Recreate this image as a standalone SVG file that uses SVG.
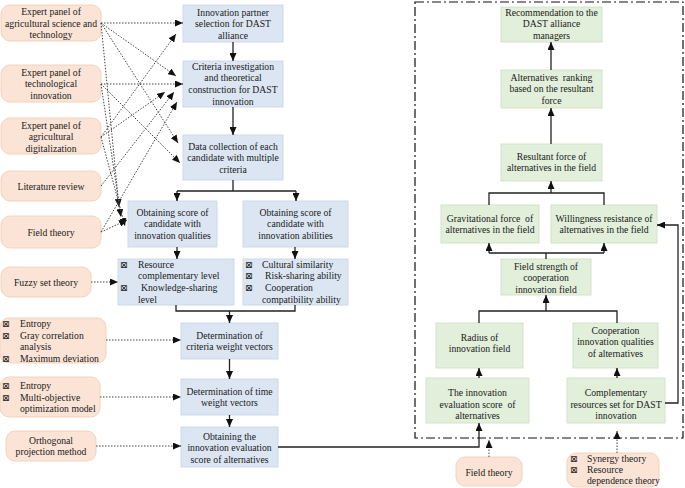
<svg xmlns="http://www.w3.org/2000/svg" width="685" height="488" viewBox="0 0 685 488">
  <defs>
    <marker id="arr" markerUnits="userSpaceOnUse" markerWidth="8" markerHeight="7" refX="8" refY="3.5" orient="auto">
      <path d="M0,0 L8,3.5 L0,7 z" fill="#111"/>
    </marker>
    <style>
      text { font-family: "Liberation Serif", "Times New Roman", serif; font-size: 9.7px; fill: #1a1a1a; }
      .c { text-anchor: middle; }
      .bul { font-family: "DejaVu Sans", sans-serif; font-size: 9px; }
      .blue rect { fill: #dce6f2; stroke: #cdd9ea; stroke-width: 1; }
      .green rect { fill: #e2efda; stroke: #d2e3c7; stroke-width: 1; }
      .peach rect { fill: #fbe4d6; stroke: #f3d2bd; stroke-width: 1; }
      .solid path { fill: none; stroke: #222; stroke-width: 1.3; }
      .dot path { fill: none; stroke: #444; stroke-width: 1; stroke-dasharray: 1.5 1.5; }
      .frame { fill: none; stroke: #111; stroke-width: 1.2; stroke-dasharray: 9 3 2 3; }
    </style>
  </defs>
  <rect width="685" height="488" fill="#fff"/>

  <!-- dash-dot boundary around the field model -->
  <rect class="frame" x="415" y="2" width="268" height="436"/>

  <!-- source nodes on the left -->
  <g id="expert-ast" class="peach">
    <rect x="1" y="5" width="100" height="36" rx="9"/>
    <text class="c" x="51" y="15">Expert panel of</text>
    <text class="c" x="51" y="26.5">agricultural science and</text>
    <text class="c" x="51" y="38">technology</text>
  </g>
  <g id="expert-ti" class="peach">
    <rect x="1" y="65" width="100" height="37" rx="9"/>
    <text class="c" x="51" y="75.5">Expert panel of</text>
    <text class="c" x="51" y="87">technological</text>
    <text class="c" x="51" y="98.5">innovation</text>
  </g>
  <g id="expert-ad" class="peach">
    <rect x="1" y="118" width="100" height="36" rx="9"/>
    <text class="c" x="51" y="128.5">Expert panel of</text>
    <text class="c" x="51" y="140">agricultural</text>
    <text class="c" x="51" y="151.5">digitalization</text>
  </g>
  <g id="literature" class="peach">
    <rect x="1" y="171" width="100" height="30" rx="9"/>
    <text class="c" x="51" y="189.5">Literature review</text>
  </g>
  <g id="field-theory-1" class="peach">
    <rect x="1" y="216" width="100" height="32" rx="9"/>
    <text class="c" x="51" y="235.5">Field theory</text>
  </g>
  <g id="fuzzy" class="peach">
    <rect x="1" y="267" width="90" height="30" rx="9"/>
    <text class="c" x="46" y="285.5">Fuzzy set theory</text>
  </g>
  <g id="methods-criteria" class="peach">
    <rect x="0" y="318" width="106" height="45" rx="9"/>
    <text class="bul" x="2" y="326.5">⊠</text>
    <text x="20" y="326.5">Entropy</text>
    <text class="bul" x="2" y="338.5">⊠</text>
    <text x="20" y="338.5">Gray correlation</text>
    <text x="20" y="350">analysis</text>
    <text class="bul" x="2" y="361.5">⊠</text>
    <text x="20" y="361.5">Maximum deviation</text>
  </g>
  <g id="methods-time" class="peach">
    <rect x="0" y="377" width="100" height="40" rx="9"/>
    <text class="bul" x="2" y="388.5">⊠</text>
    <text x="20" y="388.5">Entropy</text>
    <text class="bul" x="2" y="400.5">⊠</text>
    <text x="20" y="400.5">Multi-objective</text>
    <text x="20" y="412">optimization model</text>
  </g>
  <g id="orthogonal" class="peach">
    <rect x="6" y="431" width="90" height="30" rx="9"/>
    <text class="c" x="51" y="443.5">Orthogonal</text>
    <text class="c" x="51" y="455">projection method</text>
  </g>

  <!-- evaluation pipeline -->
  <g id="partner-selection" class="blue">
    <rect x="183" y="5" width="100" height="37"/>
    <text class="c" x="233" y="15.5">Innovation partner</text>
    <text class="c" x="233" y="27">selection for DAST</text>
    <text class="c" x="233" y="38.5">alliance</text>
  </g>
  <g id="criteria" class="blue">
    <rect x="183" y="61" width="100" height="46"/>
    <text class="c" x="233" y="69.5">Criteria investigation</text>
    <text class="c" x="233" y="81">and theoretical</text>
    <text class="c" x="233" y="93">construction for DAST</text>
    <text class="c" x="233" y="104.5">innovation</text>
  </g>
  <g id="data-collection" class="blue">
    <rect x="183" y="135" width="100" height="45"/>
    <text class="c" x="233" y="149.5">Data collection of each</text>
    <text class="c" x="233" y="161">candidate with multiple</text>
    <text class="c" x="233" y="173">criteria</text>
  </g>
  <g id="score-qualities" class="blue">
    <rect x="128" y="201" width="89" height="46"/>
    <text class="c" x="172.5" y="215.5">Obtaining score of</text>
    <text class="c" x="172.5" y="227">candidate with</text>
    <text class="c" x="172.5" y="239">innovation qualities</text>
  </g>
  <g id="score-abilities" class="blue">
    <rect x="243" y="201" width="105" height="46"/>
    <text class="c" x="295.5" y="215.5">Obtaining score of</text>
    <text class="c" x="295.5" y="227">candidate with</text>
    <text class="c" x="295.5" y="239">innovation abilities</text>
  </g>
  <g id="quality-criteria" class="blue">
    <rect x="118" y="259" width="116" height="46"/>
    <text class="bul" x="120" y="267.5">⊠</text>
    <text x="138" y="267.5">Resource</text>
    <text x="138" y="279">complementary level</text>
    <text class="bul" x="120" y="291">⊠</text>
    <text x="141" y="291">Knowledge-sharing</text>
    <text x="138" y="302.5">level</text>
  </g>
  <g id="ability-criteria" class="blue">
    <rect x="243" y="259" width="105" height="46"/>
    <text class="bul" x="245" y="267.5">⊠</text>
    <text x="262" y="267.5">Cultural similarity</text>
    <text class="bul" x="245" y="279">⊠</text>
    <text x="265" y="279">Risk-sharing ability</text>
    <text class="bul" x="245" y="291">⊠</text>
    <text x="265" y="291">Cooperation</text>
    <text x="262" y="302.5">compatibility ability</text>
  </g>
  <g id="criteria-weights" class="blue">
    <rect x="181" y="323" width="97" height="36"/>
    <text class="c" x="229.5" y="338.5">Determination of</text>
    <text class="c" x="229.5" y="350">criteria weight vectors</text>
  </g>
  <g id="time-weights" class="blue">
    <rect x="181" y="379" width="97" height="36"/>
    <text class="c" x="229.5" y="394.5">Determination of time</text>
    <text class="c" x="229.5" y="406">weight vectors</text>
  </g>
  <g id="evaluation-score" class="blue">
    <rect x="181" y="427" width="97" height="40"/>
    <text class="c" x="229.5" y="439.5">Obtaining the</text>
    <text class="c" x="229.5" y="451">innovation evaluation</text>
    <text class="c" x="229.5" y="462.5">score of alternatives</text>
  </g>

  <!-- field model -->
  <g id="recommendation" class="green">
    <rect x="501" y="7" width="101" height="35"/>
    <text class="c" x="551.5" y="15.5">Recommendation to the</text>
    <text class="c" x="551.5" y="27">DAST alliance</text>
    <text class="c" x="551.5" y="38.5">managers</text>
  </g>
  <g id="ranking" class="green">
    <rect x="501" y="70" width="101" height="38"/>
    <text class="c" x="551.5" y="80.5">Alternatives&#160; ranking</text>
    <text class="c" x="551.5" y="92">based on the resultant</text>
    <text class="c" x="551.5" y="103.5">force</text>
  </g>
  <g id="resultant" class="green">
    <rect x="501" y="144" width="101" height="37"/>
    <text class="c" x="551.5" y="159.5">Resultant force of</text>
    <text class="c" x="551.5" y="171">alternatives in the field</text>
  </g>
  <g id="gravitational" class="green">
    <rect x="441" y="205" width="98" height="38"/>
    <text class="c" x="490" y="221.5">Gravitational force&#160; of</text>
    <text class="c" x="490" y="233">alternatives in the field</text>
  </g>
  <g id="resistance" class="green">
    <rect x="551" y="205" width="106" height="38"/>
    <text class="c" x="604" y="221.5">Willingness resistance of</text>
    <text class="c" x="604" y="233">alternatives in the field</text>
  </g>
  <g id="field-strength" class="green">
    <rect x="501" y="259" width="90" height="36"/>
    <text class="c" x="546" y="269.5">Field strength of</text>
    <text class="c" x="546" y="281">cooperation</text>
    <text class="c" x="546" y="292.5">innovation field</text>
  </g>
  <g id="radius" class="green">
    <rect x="436" y="323" width="87" height="45"/>
    <text class="c" x="479.5" y="340.5">Radius of</text>
    <text class="c" x="479.5" y="352">innovation field</text>
  </g>
  <g id="coop-qualities" class="green">
    <rect x="573" y="323" width="85" height="45"/>
    <text class="c" x="615.5" y="333.5">Cooperation</text>
    <text class="c" x="615.5" y="345">innovation qualities</text>
    <text class="c" x="615.5" y="356.5">of alternatives</text>
  </g>
  <g id="innovation-score" class="green">
    <rect x="426" y="378" width="103" height="45"/>
    <text class="c" x="477.5" y="396">The innovation</text>
    <text class="c" x="477.5" y="407.5">evaluation score&#160; of</text>
    <text class="c" x="477.5" y="419">alternatives</text>
  </g>
  <g id="complementary" class="green">
    <rect x="567" y="378" width="98" height="45"/>
    <text class="c" x="616" y="396">Complementary</text>
    <text class="c" x="616" y="407.5">resources set for DAST</text>
    <text class="c" x="616" y="419">innovation</text>
  </g>
  <g id="field-theory-2" class="peach">
    <rect x="456" y="457" width="66" height="29" rx="9"/>
    <text class="c" x="489" y="476">Field theory</text>
  </g>
  <g id="synergy" class="peach">
    <rect x="567" y="453" width="92" height="34" rx="9"/>
    <text class="bul" x="570" y="461.5">⊠</text>
    <text x="587" y="461.5">Synergy theory</text>
    <text class="bul" x="570" y="472.5">⊠</text>
    <text x="587" y="472.5">Resource</text>
    <text x="587" y="484">dependence theory</text>
  </g>

  <!-- connectors -->
  <g id="connectors">
    <g class="solid">
      <path d="M233,42 V61" marker-end="url(#arr)"/>
      <path d="M233,107 V135" marker-end="url(#arr)"/>
      <path d="M233,180 V191 M177,191 H296"/>
      <path d="M177,191 V201" marker-end="url(#arr)"/>
      <path d="M296,191 V201" marker-end="url(#arr)"/>
      <path d="M177,247 V259" marker-end="url(#arr)"/>
      <path d="M295,247 V259" marker-end="url(#arr)"/>
      <path d="M176,305 V311 H295 V305"/>
      <path d="M229.5,311 V323" marker-end="url(#arr)"/>
      <path d="M229.5,359 V379" marker-end="url(#arr)"/>
      <path d="M229.5,415 V427" marker-end="url(#arr)"/>
      <path d="M278,447 H479 V423" marker-end="url(#arr)"/>

      <path d="M479,378 V368" marker-end="url(#arr)"/>
      <path d="M617,378 V368" marker-end="url(#arr)"/>
      <path d="M479,323 V311 H617 V323"/>
      <path d="M546,311 V295" marker-end="url(#arr)"/>
      <path d="M546,259 V253 M489,253 H604"/>
      <path d="M489,253 V243" marker-end="url(#arr)"/>
      <path d="M604,253 V243" marker-end="url(#arr)"/>
      <path d="M489,205 V193 H604 V205"/>
      <path d="M551,193 V181" marker-end="url(#arr)"/>
      <path d="M551,144 V108" marker-end="url(#arr)"/>
      <path d="M551,70 V42" marker-end="url(#arr)"/>
      <path d="M665,403 H678 V225 H657" marker-end="url(#arr)"/>
    </g>
    <g class="dot">
      <!-- expert panel of agricultural science and technology -->
      <path d="M101,23 L183,23" marker-end="url(#arr)"/>
      <path d="M101,23 L176,76" marker-end="url(#arr)"/>
      <path d="M101,23 L178,143" marker-end="url(#arr)"/>
      <path d="M101,23 L119,207" marker-end="url(#arr)"/>
      <!-- expert panel of technological innovation -->
      <path d="M101,84 L183,84" marker-end="url(#arr)"/>
      <path d="M101,84 L180,163" marker-end="url(#arr)"/>
      <path d="M101,84 L121,217" marker-end="url(#arr)"/>
      <!-- expert panel of agricultural digitalization -->
      <path d="M101,137 L176,34" marker-end="url(#arr)"/>
      <path d="M101,137 L165,92" marker-end="url(#arr)"/>
      <path d="M101,137 L125,226" marker-end="url(#arr)"/>
      <!-- literature review -->
      <path d="M101,186 L174,92" marker-end="url(#arr)"/>
      <!-- field theory -->
      <path d="M101,232 L177,102" marker-end="url(#arr)"/>
      <path d="M101,232 L127,220" marker-end="url(#arr)"/>
      <!-- methods feeding the pipeline -->
      <path d="M91,282 H118" marker-end="url(#arr)"/>
      <path d="M106,340 H181" marker-end="url(#arr)"/>
      <path d="M100,397 H181" marker-end="url(#arr)"/>
      <path d="M96,446 H181" marker-end="url(#arr)"/>
      <path d="M489,457 V440" marker-end="url(#arr)"/>
      <path d="M617,453 V431" marker-end="url(#arr)"/>
    </g>
  </g>
</svg>
